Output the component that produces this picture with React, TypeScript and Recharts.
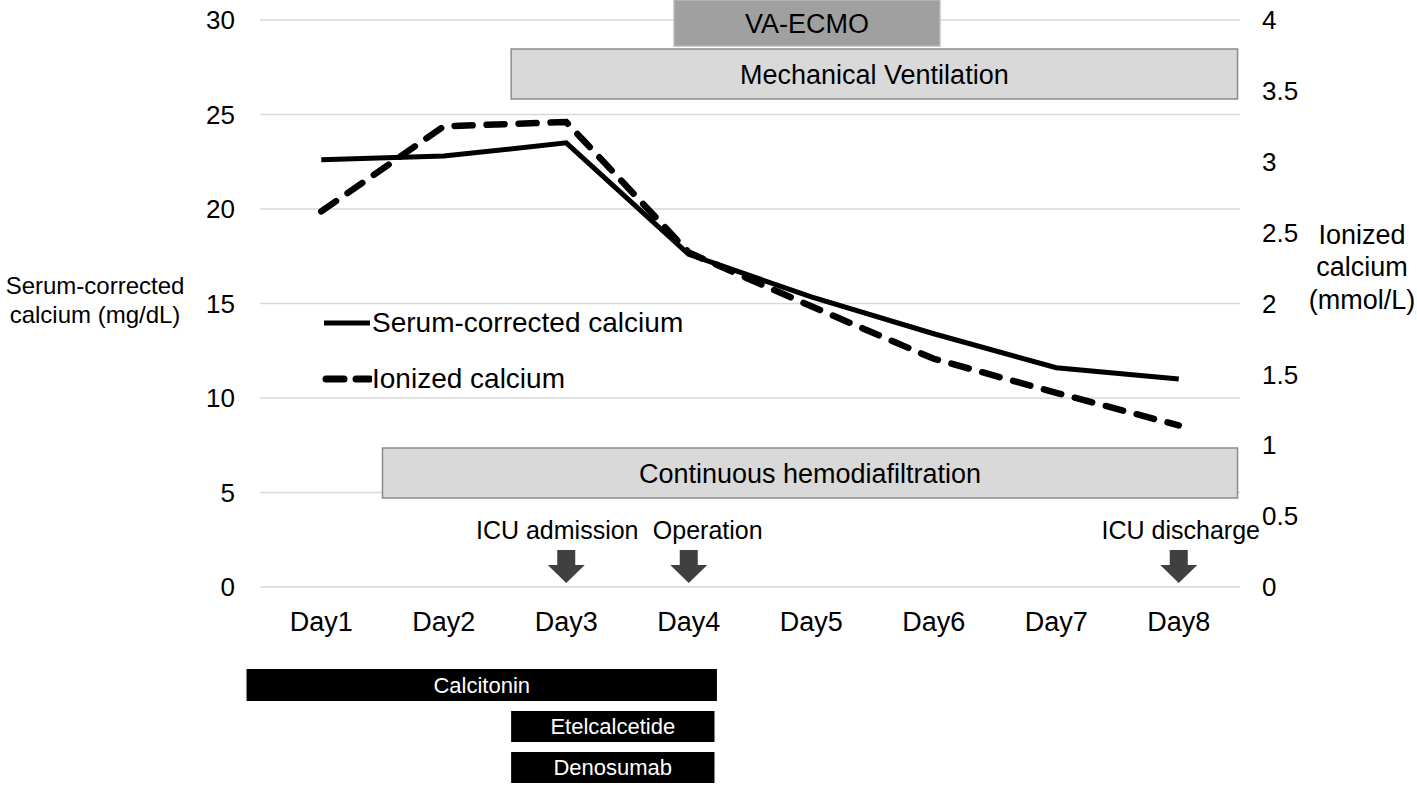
import React from "react";
import {
  LineChart, Line, XAxis, YAxis, CartesianGrid, Legend,
  ReferenceArea, ReferenceDot,
} from "recharts";

const DAYS = [1, 2, 3, 4, 5, 6, 7, 8];
const DAY_LABELS = ["Day1", "Day2", "Day3", "Day4", "Day5", "Day6", "Day7", "Day8"];
const SERUM_CA = [22.6, 22.8, 23.5, 17.6, 15.35, 13.4, 11.6, 11.0];
const IONIZED_CA = [2.65, 3.25, 3.28, 2.36, 1.98, 1.61, 1.37, 1.14];

const LEFT_TICKS = [0, 5, 10, 15, 20, 25, 30];
const RIGHT_TICKS = [0, 0.5, 1, 1.5, 2, 2.5, 3, 3.5, 4];

// support therapies, spans in days
const THERAPY_NAMES = ["VA-ECMO", "Mechanical Ventilation", "Continuous hemodiafiltration"];
const THERAPY_START = [3.88, 2.55, 1.5];
const THERAPY_END = [6.05, 8.48, 8.48];

// drugs given, spans in days
const DRUG_NAMES = ["Calcitonin", "Etelcalcetide", "Denosumab"];
const DRUG_START = [0.39, 2.55, 2.55];
const DRUG_END = [4.23, 4.21, 4.21];

// events marked with an arrow
const EVENT_NAMES = ["ICU admission", "Operation", "ICU discharge"];
const EVENT_DAYS = [3, 4, 8];

const data = DAYS.map((d, i) => ({ day: d, serum: SERUM_CA[i], ionized: IONIZED_CA[i] }));

// vertical placement of the bars, in left-axis units
const THERAPY_ROWS = [[28.62, 31.06], [25.82, 28.47], [4.71, 7.35]];
const THERAPY_FILL = ["#a0a0a0", "#d9d9d9", "#d9d9d9"];
const THERAPY_STROKE = ["#b8b8b8", "#8c8c8c", "#8c8c8c"];
const DRUG_ROWS = [[-6.03, -4.34], [-8.2, -6.56], [-10.37, -8.73]];
const EVENT_TEXT_DX = [-9, 19, 2];

const FONT = "'Liberation Sans', Arial, sans-serif";

function LeftAxisLabel(props: any) {
  const vb = props.viewBox;
  const cx = vb.x + 95;
  const mid = vb.y + vb.height / 2;
  return (
    <text x={cx} textAnchor="middle" fontSize={24} fill="#000" dominantBaseline="central">
      <tspan x={cx} y={mid - 19}>Serum-corrected</tspan>
      <tspan x={cx} y={mid + 10}>calcium (mg/dL)</tspan>
    </text>
  );
}

function RightAxisLabel(props: any) {
  const vb = props.viewBox;
  const cx = vb.x + 122;
  const mid = vb.y + vb.height / 2;
  return (
    <text x={cx} textAnchor="middle" fontSize={27} fill="#000" dominantBaseline="central">
      <tspan x={cx} y={mid - 69}>Ionized</tspan>
      <tspan x={cx} y={mid - 37}>calcium</tspan>
      <tspan x={cx} y={mid - 4}>(mmol/L)</tspan>
    </text>
  );
}

function EventMarker(props: any) {
  const { cx, cy, text, dx } = props;
  return (
    <g>
      <path
        d={`M${cx - 9},${cy - 37} h18 v15 h9.5 l-18.5,18 l-18.5,-18 h9.5 z`}
        fill="#404040"
      />
      <text x={cx + dx} y={cy - 57} textAnchor="middle" dominantBaseline="central" fontSize={25} fill="#000">
        {text}
      </text>
    </g>
  );
}

function renderLegend() {
  const row = { display: "flex", alignItems: "center", height: 56, fontSize: 28, color: "#000" };
  return (
    <div style={{ fontFamily: FONT }}>
      <div style={row}>
        <svg width={50} height={10}>
          <line x1={2} y1={5} x2={48} y2={5} stroke="#000" strokeWidth={5} />
        </svg>
        <span>Serum-corrected calcium</span>
      </div>
      <div style={row}>
        <svg width={50} height={10}>
          <line x1={4} y1={5} x2={48} y2={5} stroke="#000" strokeWidth={7}
            strokeDasharray="18 12" strokeLinecap="round" />
        </svg>
        <span>Ionized calcium</span>
      </div>
    </div>
  );
}

export default function App() {
  return (
    <div style={{ position: "absolute", left: 0, top: 0, width: 1417, height: 785, background: "#fff", fontFamily: FONT }}>
      <LineChart width={1417} height={785} data={data} margin={{ top: 20, right: 0, bottom: 0, left: 0 }}>
        <CartesianGrid vertical={false} stroke="#d9d9d9" strokeWidth={1.5} yAxisId="left" />
        <XAxis
          dataKey="day"
          type="number"
          domain={[0.5, 8.5]}
          ticks={DAYS}
          tickFormatter={(v: number) => DAY_LABELS[v - 1]}
          height={198}
          axisLine={false}
          tickLine={false}
          tickSize={0}
          tickMargin={25}
          interval={0}
          tick={{ fontSize: 27, fill: "#000" }}
        />
        <YAxis
          yAxisId="left"
          domain={[0, 30]}
          ticks={LEFT_TICKS}
          width={260}
          axisLine={false}
          tickLine={false}
          tickSize={0}
          tickMargin={25}
          interval={0}
          tick={{ fontSize: 26, fill: "#000" }}
          label={<LeftAxisLabel />}
        />
        <YAxis
          yAxisId="right"
          orientation="right"
          domain={[0, 4]}
          ticks={RIGHT_TICKS}
          width={177}
          axisLine={false}
          tickLine={false}
          tickSize={0}
          tickMargin={22}
          interval={0}
          tick={{ fontSize: 26, fill: "#000" }}
          label={<RightAxisLabel />}
        />
        {THERAPY_NAMES.map((name, i) => (
          <ReferenceArea
            key={name}
            yAxisId="left"
            x1={THERAPY_START[i]}
            x2={THERAPY_END[i]}
            y1={THERAPY_ROWS[i][0]}
            y2={THERAPY_ROWS[i][1]}
            fill={THERAPY_FILL[i]}
            fillOpacity={1}
            stroke={THERAPY_STROKE[i]}
            strokeWidth={1.5}
            ifOverflow="visible"
            label={{ value: name, position: "center", fontSize: 27, fill: "#000" }}
          />
        ))}
        {DRUG_NAMES.map((name, i) => (
          <ReferenceArea
            key={name}
            yAxisId="left"
            x1={DRUG_START[i]}
            x2={DRUG_END[i]}
            y1={DRUG_ROWS[i][0]}
            y2={DRUG_ROWS[i][1]}
            fill="#000"
            fillOpacity={1}
            ifOverflow="visible"
            label={{ value: name, position: "center", fontSize: 22, fill: "#fff" }}
          />
        ))}
        {EVENT_NAMES.map((name, i) => (
          <ReferenceDot
            key={name}
            yAxisId="left"
            x={EVENT_DAYS[i]}
            y={0}
            ifOverflow="visible"
            shape={(p: any) => <EventMarker {...p} text={name} dx={EVENT_TEXT_DX[i]} />}
          />
        ))}
        <Line
          yAxisId="left"
          type="linear"
          dataKey="serum"
          name="Serum-corrected calcium"
          stroke="#000"
          strokeWidth={5}
          dot={false}
          isAnimationActive={false}
        />
        <Line
          yAxisId="right"
          type="linear"
          dataKey="ionized"
          name="Ionized calcium"
          stroke="#000"
          strokeWidth={6.5}
          strokeDasharray="18 14"
          strokeLinecap="round"
          dot={false}
          isAnimationActive={false}
        />
        <Legend
          layout="vertical"
          align="center"
          verticalAlign="middle"
          content={renderLegend}
          wrapperStyle={{ left: 322, top: 295, width: 420, height: 112 }}
        />
      </LineChart>
    </div>
  );
}
